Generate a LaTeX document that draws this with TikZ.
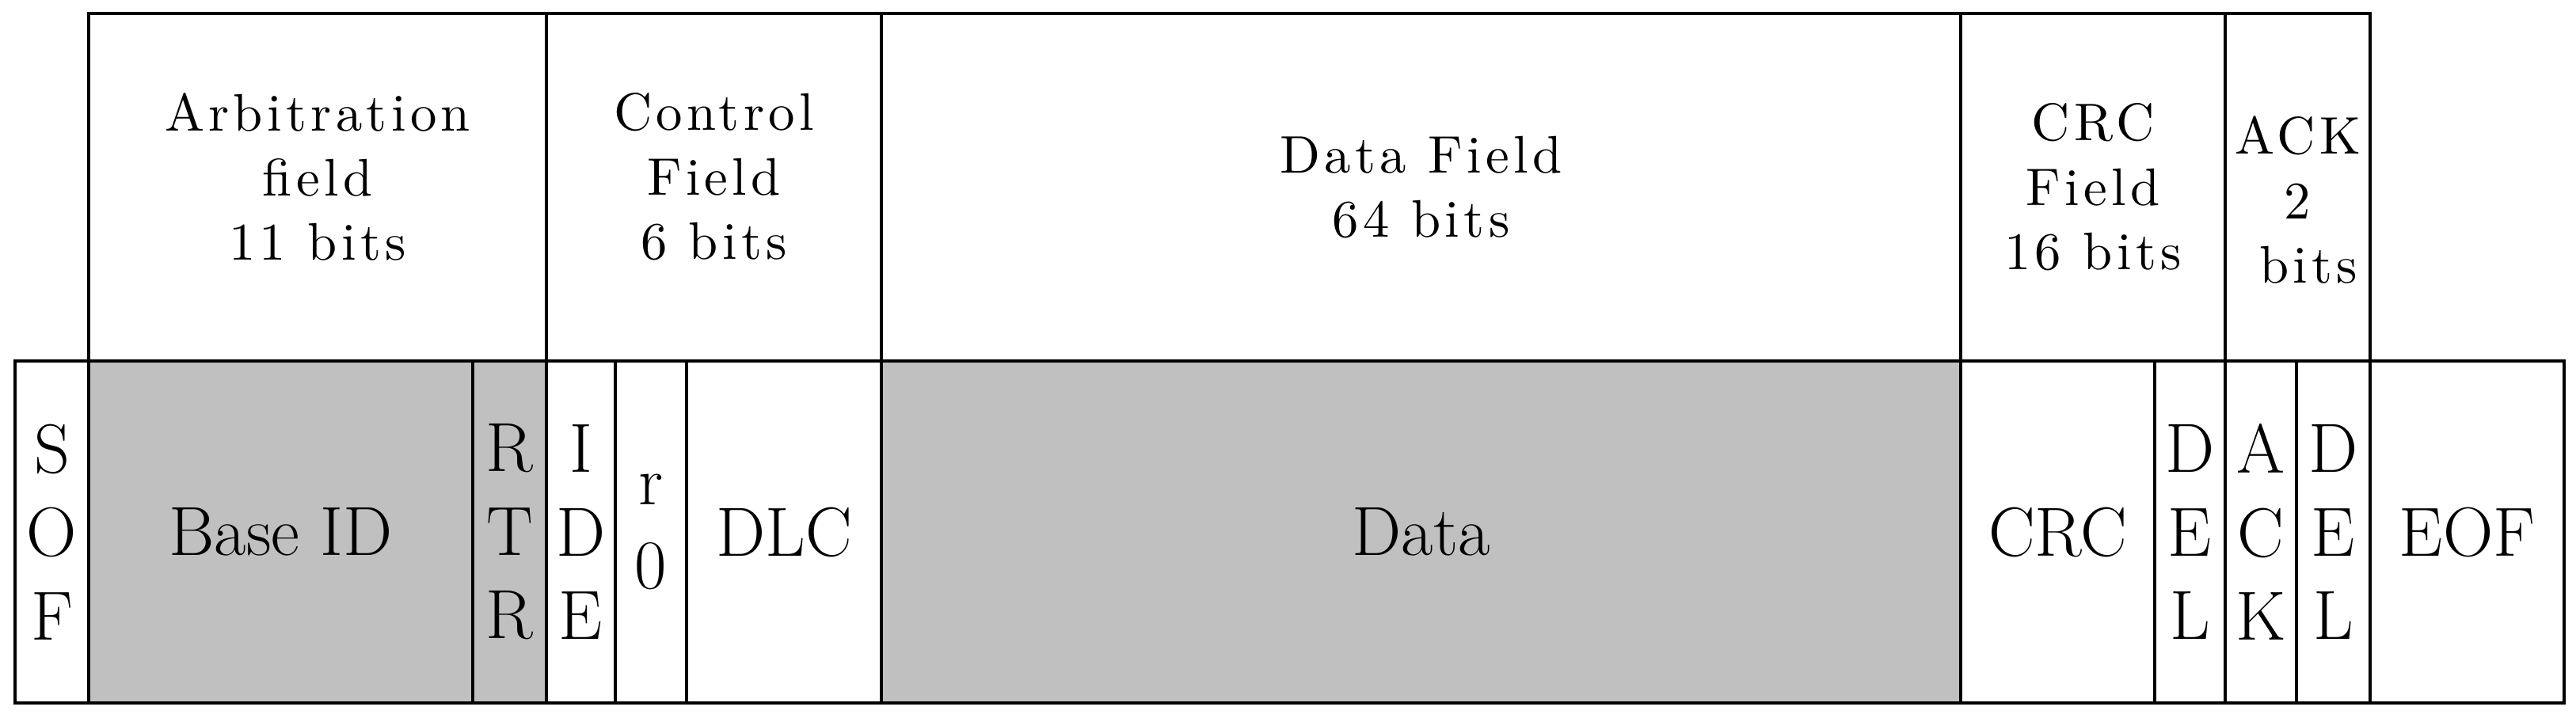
\documentclass[tikz,border=0pt]{standalone}
\usepackage{fontspec}
\usepackage{tikz}
\usetikzlibrary{positioning}

\newfontfamily\fieldfont[LetterSpace=8]{lmroman10-regular.otf}
\definecolor{fieldgray}{RGB}{192,192,192}

\tikzset{
	bitbox/.style={draw, line width=1.1pt, minimum height=4.32cm, inner sep=0pt, outer sep=0pt,
		align=center, font=\fontsize{25}{30}\selectfont},
	fieldbox/.style={draw, line width=1.1pt, minimum height=4.39cm, inner sep=0pt, outer sep=0pt},
	fieldtext/.style={inner sep=0pt, align=center, font=\fieldfont\fontsize{19}{23.2}\selectfont},
	shaded/.style={fill=fieldgray}
}

\begin{document}
\begin{tikzpicture}
		\useasboundingbox (0,0) rectangle (32.53,9.06);
		
		% bits of the frame
		\node[bitbox, minimum width=0.93cm, anchor=south west] (sof) at (0.19,0.18) {S\\O\\F};
		\node[bitbox, shaded, minimum width=4.85cm, right=0pt of sof] (baseid) {Base ID};
		\node[bitbox, shaded, minimum width=0.93cm, right=0pt of baseid] (rtr) {R\\T\\R};
		\node[bitbox, minimum width=0.87cm, right=0pt of rtr] (ide) {I\\D\\E};
		\node[bitbox, minimum width=0.90cm, right=0pt of ide] (rzero) {r\\0};
		\node[bitbox, minimum width=2.46cm, right=0pt of rzero] (dlc) {DLC};
		\node[bitbox, shaded, minimum width=13.63cm, right=0pt of dlc] (data) {Data};
		\node[bitbox, minimum width=2.45cm, right=0pt of data] (crc) {CRC};
		\node[bitbox, minimum width=0.89cm, right=0pt of crc] (crcdel) {D\\E\\L};
		\node[bitbox, minimum width=0.90cm, right=0pt of crcdel] (ack) {A\\C\\K};
		\node[bitbox, minimum width=0.93cm, right=0pt of ack] (ackdel) {D\\E\\L};
		\node[bitbox, minimum width=2.45cm, right=0pt of ackdel] (eof) {EOF};
		
		% fields
		\node[fieldbox, minimum width=5.78cm, anchor=south west] (arbfield) at (baseid.north west) {};
		\node[fieldbox, minimum width=4.23cm, right=0pt of arbfield] (ctrlfield) {};
		\node[fieldbox, minimum width=13.63cm, right=0pt of ctrlfield] (datafield) {};
		\node[fieldbox, minimum width=3.34cm, right=0pt of datafield] (crcfield) {};
		\node[fieldbox, minimum width=1.83cm, right=0pt of crcfield] (ackfield) {};
		
		\node[fieldtext, yshift=0.13cm] (arbtext) at (arbfield) {Arbitration\\field\\11 bits};
		\node[fieldtext, yshift=0.13cm] (ctrltext) at (ctrlfield) {Control\\Field\\6 bits};
		\node[fieldtext] (datatext) at (datafield) {Data Field\\64 bits};
		\node[fieldtext] (crctext) at (crcfield) {CRC\\Field\\16 bits};
		\node[fieldtext, yshift=-0.16cm] (acktext) at (ackfield) {ACK\\2\\\ bits};
		
		\end{tikzpicture}
\end{document}
